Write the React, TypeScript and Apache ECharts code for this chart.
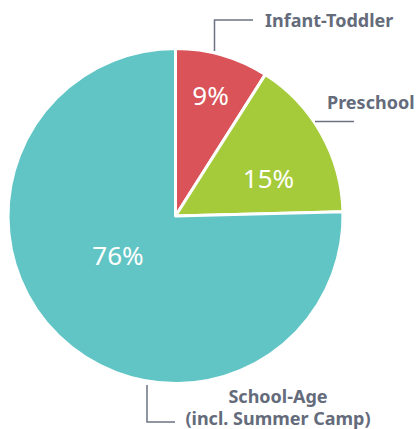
import React, { useEffect, useRef } from "react";
import * as echarts from "echarts";

const categories = ["Infant-Toddler", "Preschool", "School-Age\n(incl. Summer Camp)"];
const values = [9, 15.6, 75.4];
const percentLabels = ["9%", "15%", "76%"];
const colors = ["#d95359", "#a5cb3a", "#62c5c5"];

// label placement (layout only)
const percentPos: [number, number][] = [
  [210.5, 95],
  [268.5, 178],
  [118, 255],
];
const namePos: [number, number, string][] = [
  [265, 20, "left"],
  [327, 102, "left"],
  [278, 406.5, "center"],
];
const linePts: [number, number][][] = [
  [[214.5, 51], [214.5, 20], [253, 20]],
  [[315, 121.5], [354, 121.5]],
  [[147, 385], [147, 422], [175, 422]],
];

export default function App() {
  const ref = useRef<HTMLDivElement>(null);
  useEffect(() => {
    if (!ref.current) return;
    const chart = echarts.init(ref.current, undefined, { renderer: "svg" });
    const data = categories.map((c, i) => ({
      name: c,
      value: values[i],
      itemStyle: { color: colors[i] },
    }));
    chart.setOption({
      animation: false,
      backgroundColor: "#ffffff",
      series: [
        {
          type: "pie",
          center: [175.5, 216],
          radius: 167.5,
          startAngle: 90,
          clockwise: true,
          silent: true,
          itemStyle: { borderColor: "#ffffff", borderWidth: 3 },
          label: {
            show: true,
            position: "inside",
            formatter: (p: any) => percentLabels[p.dataIndex],
            color: "#ffffff",
            fontSize: 26,
            fontWeight: "normal",
            fontFamily: "Noto Sans",
            overflow: "none",
          },
          labelLayout: (p: any) => ({
            x: percentPos[p.dataIndex][0],
            y: percentPos[p.dataIndex][1],
            align: "center",
            verticalAlign: "middle",
          }),
          labelLine: { show: false },
          emphasis: { disabled: true },
          data,
        },
        {
          type: "pie",
          center: [175.5, 216],
          radius: 167.5,
          startAngle: 90,
          clockwise: true,
          silent: true,
          z: 3,
          avoidLabelOverlap: false,
          itemStyle: { color: "rgba(0,0,0,0)", borderWidth: 0 },
          label: {
            show: true,
            position: "outside",
            formatter: "{b}",
            color: "#646b7b",
            fontSize: 18,
            fontWeight: "bold",
            fontFamily: "Noto Sans",
            lineHeight: 22,
            align: "center",
            overflow: "none",
            width: 300,
          },
          labelLine: {
            show: true,
            length: 10,
            length2: 10,
            lineStyle: { color: "#6b7383", width: 1.5 },
          },
          labelLayout: (p: any) => ({
            x: namePos[p.dataIndex][0],
            y: namePos[p.dataIndex][1],
            align: namePos[p.dataIndex][2],
            verticalAlign: "middle",
            labelLinePoints: linePts[p.dataIndex],
          }),
          emphasis: { disabled: true },
          data: categories.map((c, i) => ({ name: c, value: values[i] })),
        },
      ],
    });
    return () => chart.dispose();
  }, []);
  return (
    <div
      ref={ref}
      style={{ position: "absolute", left: 0, top: 0, width: 418, height: 429 }}
    />
  );
}
